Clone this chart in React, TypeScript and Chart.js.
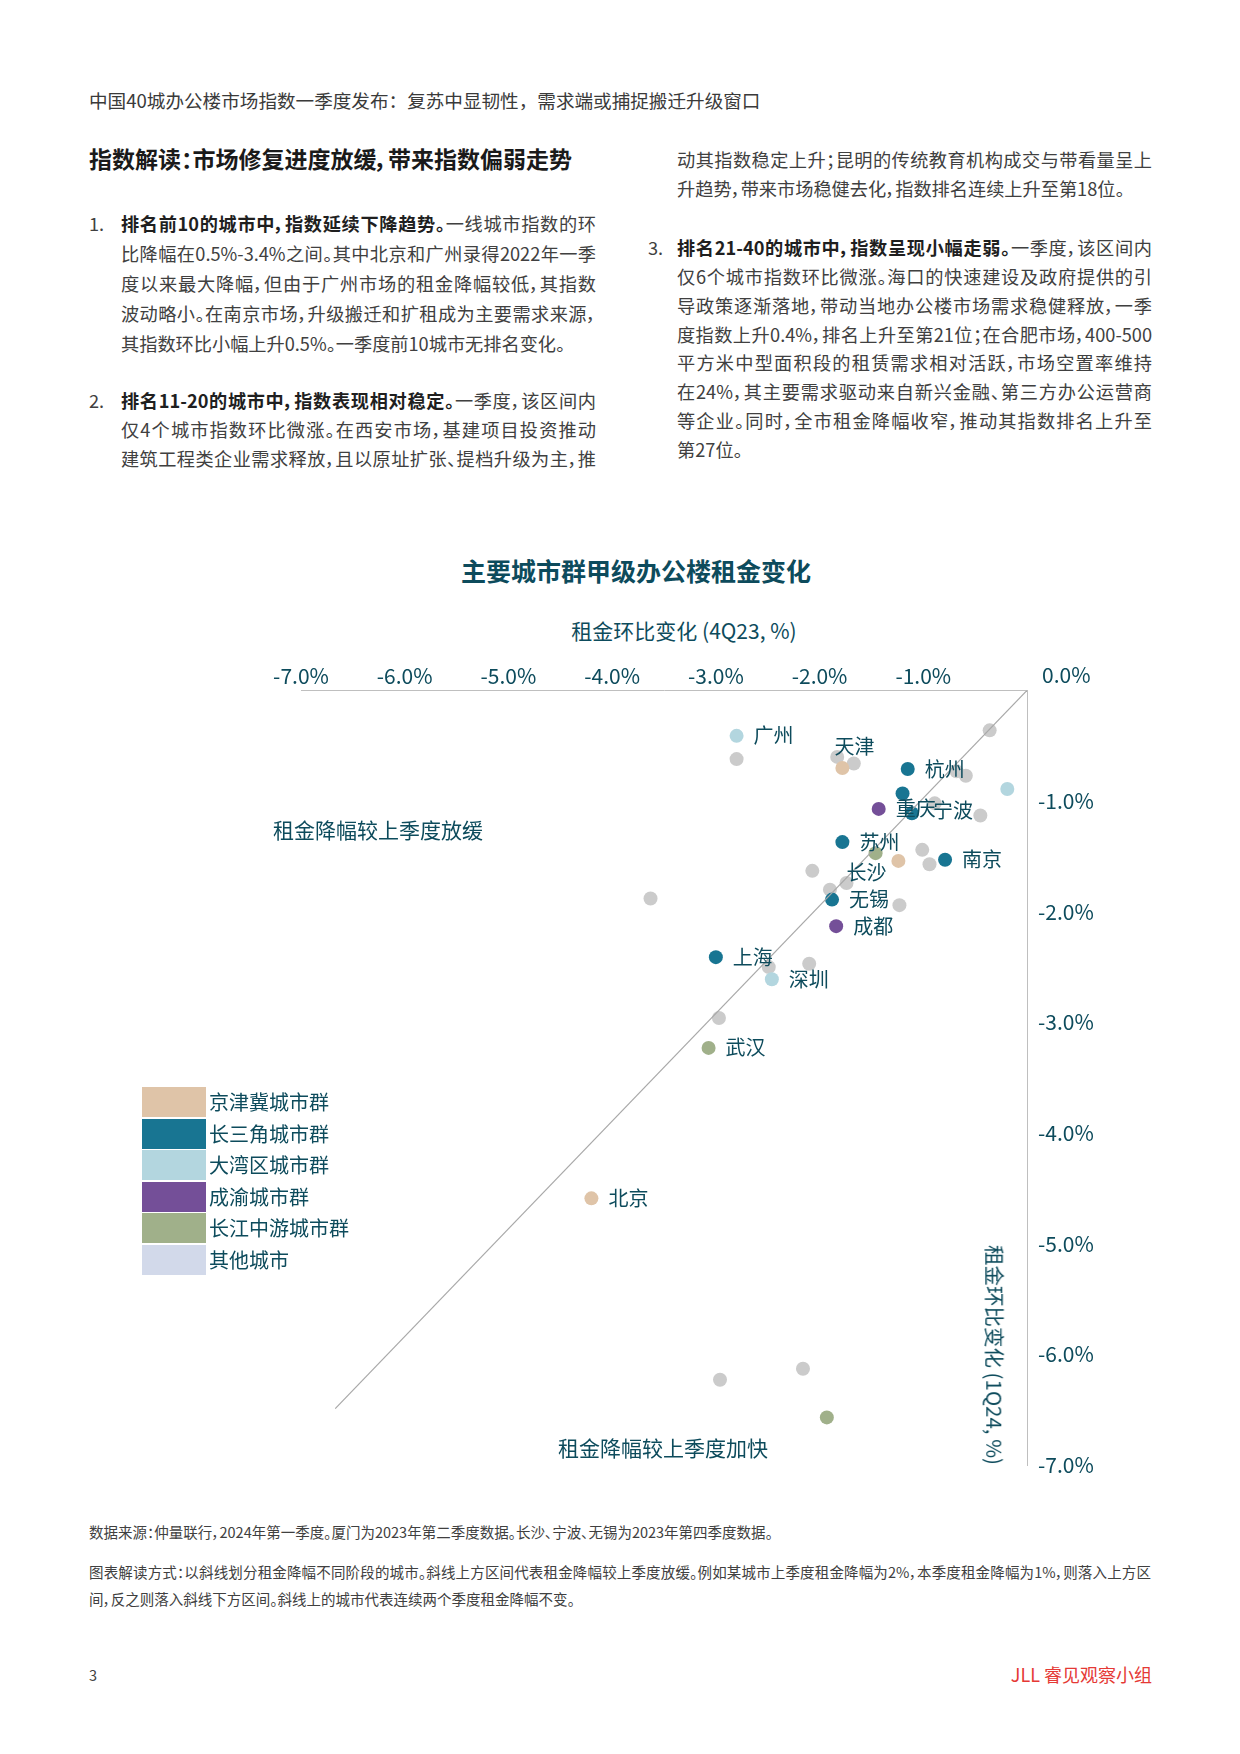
import React, { useEffect, useRef } from 'react';
import { Chart, registerables } from 'chart.js';

Chart.register(...registerables);

const FONT = "'Noto Sans CJK SC', 'Noto Sans', sans-serif";
const TEAL_TEXT = '#0d4b5c';
const BODY_TEXT = '#404040';

// ---- legend / groups ----
const groupNames = ['京津冀城市群', '长三角城市群', '大湾区城市群', '成渝城市群', '长江中游城市群', '其他城市'];
const groupColors = ['#dfc4a8', '#187592', '#b3d6df', '#744f98', '#a0b08a', '#d2d9ea'];
const otherDotColor = '#cbcbcb';

// ---- data: x = 租金环比变化 4Q23 (%), y = 租金环比变化 1Q24 (%) ----
const jjjCities = ['天津', '北京', ''];
const jjjRent4Q23 = [-1.78, -4.2, -1.24];
const jjjRent1Q24 = [-0.7, -4.59, -1.54];

const csjCities = ['杭州', '', '宁波', '苏州', '南京', '无锡', '上海'];
const csjRent4Q23 = [-1.15, -1.2, -1.11, -1.78, -0.79, -1.88, -3.0];
const csjRent1Q24 = [-0.71, -0.93, -1.11, -1.37, -1.53, -1.89, -2.41];

const gbaCities = ['广州', '深圳', ''];
const gbaRent4Q23 = [-2.8, -2.46, -0.19];
const gbaRent1Q24 = [-0.41, -2.61, -0.89];

const cyCities = ['重庆', '成都'];
const cyRent4Q23 = [-1.43, -1.84];
const cyRent1Q24 = [-1.07, -2.13];

const cjzyCities = ['长沙', '武汉', ''];
const cjzyRent4Q23 = [-1.46, -3.07, -1.93];
const cjzyRent1Q24 = [-1.47, -3.23, -6.57];

const otherRent4Q23 = [-2.8, -1.83, -1.67, -0.36, -0.68, -0.59, -0.89, -0.45, -1.01, -0.94, -2.07, -1.74, -1.9, -1.23, -3.63, -2.49, -2.1, -2.97, -2.96, -2.16];
const otherRent1Q24 = [-0.62, -0.6, -0.66, -0.36, -0.73, -0.77, -1.02, -1.13, -1.44, -1.57, -1.63, -1.74, -1.8, -1.94, -1.88, -2.5, -2.47, -2.96, -6.23, -6.13];

// reference (no change) line
const diagonal4Q23 = [0, -6.67];
const diagonal1Q24 = [0, -6.49];

const axisMin = -7;
const axisMax = 0;
const axisStep = 1;

// label placement (pixels) relative to the dot; default right of dot
const labelOffsets: Record<string, [number, number]> = {
  天津: [-8, -22],
  宁波: [21, -3],
  长沙: [-29, 19],
};

const toPoints = (xs: number[], ys: number[]) => xs.map((x, i) => ({ x, y: ys[i] }));

const pointLabelPlugin = {
  id: 'pointLabels',
  afterDatasetsDraw(chart: any) {
    const ctx = chart.ctx;
    ctx.save();
    ctx.font = `20px ${FONT}`;
    ctx.fillStyle = TEAL_TEXT;
    ctx.textBaseline = 'middle';
    ctx.textAlign = 'left';
    chart.data.datasets.forEach((ds: any, i: number) => {
      const names: string[] | undefined = ds.cityNames;
      if (!names) return;
      const meta = chart.getDatasetMeta(i);
      meta.data.forEach((el: any, j: number) => {
        const n = names[j];
        if (!n) return;
        const [dx, dy] = labelOffsets[n] || [17, 0];
        ctx.fillText(n, el.x + dx, el.y + dy);
      });
    });
    const area = chart.chartArea;
    ctx.font = `21px ${FONT}`;
    ctx.fillText('0.0%', area.right + 15, area.top - 15);
    ctx.restore();
  },
};

function ScatterChart() {
  const ref = useRef<HTMLCanvasElement | null>(null);
  useEffect(() => {
    if (!ref.current) return;
    const tickFont = { family: FONT, size: 21 };
    const fmt = (v: any) => (Number(v) === 0 ? '' : Number(v).toFixed(1) + '%');
    const mk = (names: string[] | null, xs: number[], ys: number[], color: string) => ({
      data: toPoints(xs, ys),
      cityNames: names,
      backgroundColor: color,
      borderWidth: 0,
      pointRadius: 7,
      pointHoverRadius: 7,
      pointBorderWidth: 0,
    });
    const chart = new Chart(ref.current, {
      type: 'scatter',
      data: {
        datasets: [
          {
            data: toPoints(diagonal4Q23, diagonal1Q24),
            showLine: true,
            borderColor: '#a8a8a8',
            borderWidth: 1.2,
            pointRadius: 0,
            pointHoverRadius: 0,
          } as any,
          mk(jjjCities, jjjRent4Q23, jjjRent1Q24, groupColors[0]),
          mk(csjCities, csjRent4Q23, csjRent1Q24, groupColors[1]),
          mk(gbaCities, gbaRent4Q23, gbaRent1Q24, groupColors[2]),
          mk(cyCities, cyRent4Q23, cyRent1Q24, groupColors[3]),
          mk(cjzyCities, cjzyRent4Q23, cjzyRent1Q24, groupColors[4]),
          mk(null, otherRent4Q23, otherRent1Q24, otherDotColor),
        ],
      },
      options: {
        responsive: false,
        animation: false,
        events: [],
        layout: { padding: { left: 301, top: 50.5, right: 113, bottom: 35 } },
        plugins: { legend: { display: false }, tooltip: { enabled: false } },
        scales: {
          x: {
            type: 'linear',
            position: 'top',
            min: axisMin,
            max: axisMax,
            ticks: { stepSize: axisStep, padding: 2, color: TEAL_TEXT, font: tickFont, callback: fmt, autoSkip: false, maxRotation: 0 },
            grid: { display: false, drawTicks: false },
            border: { display: true, color: '#bfbfbf', width: 1 },
            afterFit: (s: any) => {
              s.height = 40;
            },
          },
          y: {
            type: 'linear',
            position: 'right',
            min: axisMin,
            max: axisMax,
            ticks: { stepSize: axisStep, padding: 11, color: TEAL_TEXT, font: tickFont, callback: fmt, autoSkip: false },
            grid: { display: false, drawTicks: false },
            border: { display: true, color: '#bfbfbf', width: 1 },
            afterFit: (s: any) => {
              s.width = 100;
            },
          },
        },
      } as any,
      plugins: [pointLabelPlugin],
    });
    return () => chart.destroy();
  }, []);
  return (
    <canvas
      ref={ref}
      width={1240}
      height={900}
      style={{ position: 'absolute', left: 0, top: 600, width: 1240, height: 900 }}
    />
  );
}

type LineProps = { x: number; y: number; w: number; last?: boolean; size?: number; children: React.ReactNode; bold?: boolean; color?: string };
function Line({ x, y, w, last, size = 18.2, children, bold, color = BODY_TEXT }: LineProps) {
  return (
    <div
      style={{
        position: 'absolute',
        left: x,
        top: y - 15,
        width: w,
        height: 30,
        lineHeight: '30px',
        fontSize: size,
        fontFamily: FONT,
        fontWeight: bold ? 700 : 400,
        color,
        textAlign: 'justify',
        textAlignLast: last ? 'left' : 'justify',
        fontFeatureSettings: '"palt"',
        whiteSpace: 'normal',
      } as any}
    >
      {children}
    </div>
  );
}

function Txt({ x, y, size, children, color = TEAL_TEXT, bold, center, style }: any) {
  return (
    <div
      style={{
        position: 'absolute',
        left: x,
        top: y,
        transform: center ? 'translate(-50%, -50%)' : 'translate(0, -50%)',
        fontSize: size,
        fontFamily: FONT,
        fontWeight: bold ? 700 : 400,
        color,
        whiteSpace: 'nowrap',
        lineHeight: 1.2,
        ...style,
      }}
    >
      {children}
    </div>
  );
}

const B = ({ children }: any) => <b style={{ fontWeight: 700, color: '#1f1f1f' }}>{children}</b>;

export default function App() {
  const L = 121;
  const R = 677;
  const W = 475;
  return (
    <div style={{ position: 'absolute', left: 0, top: 0, width: 1240, height: 1754, background: '#fff', overflow: 'hidden' }}>
      <Txt x={89} y={100} size={18.6} color="#3a3a3a">
        中国40城办公楼市场指数一季度发布：复苏中显韧性，需求端或捕捉搬迁升级窗口
      </Txt>
      <Txt x={89} y={159} size={23} bold color="#1a1a1a" style={{ fontFeatureSettings: '"palt"' }}>
        指数解读：市场修复进度放缓，带来指数偏弱走势
      </Txt>

      {/* left column */}
      <Line x={89} y={223} w={30}>1.</Line>
      <Line x={L} y={223} w={W}><B>排名前10的城市中，指数延续下降趋势。</B>一线城市指数的环</Line>
      <Line x={L} y={253} w={W}>比降幅在0.5%-3.4%之间。其中北京和广州录得2022年一季</Line>
      <Line x={L} y={283} w={W}>度以来最大降幅，但由于广州市场的租金降幅较低，其指数</Line>
      <Line x={L} y={313} w={W}>波动略小。在南京市场，升级搬迁和扩租成为主要需求来源，</Line>
      <Line x={L} y={343} w={W} last>其指数环比小幅上升0.5%。一季度前10城市无排名变化。</Line>

      <Line x={89} y={400} w={30}>2.</Line>
      <Line x={L} y={400} w={W}><B>排名11-20的城市中，指数表现相对稳定。</B>一季度，该区间内</Line>
      <Line x={L} y={429} w={W}>仅4个城市指数环比微涨。在西安市场，基建项目投资推动</Line>
      <Line x={L} y={458} w={W}>建筑工程类企业需求释放，且以原址扩张、提档升级为主，推</Line>

      {/* right column */}
      <Line x={R} y={159} w={W}>动其指数稳定上升；昆明的传统教育机构成交与带看量呈上</Line>
      <Line x={R} y={188} w={W} last>升趋势，带来市场稳健去化，指数排名连续上升至第18位。</Line>

      <Line x={648} y={247} w={30}>3.</Line>
      <Line x={R} y={247} w={W}><B>排名21-40的城市中，指数呈现小幅走弱。</B>一季度，该区间内</Line>
      <Line x={R} y={276} w={W}>仅6个城市指数环比微涨。海口的快速建设及政府提供的引</Line>
      <Line x={R} y={304.5} w={W}>导政策逐渐落地，带动当地办公楼市场需求稳健释放，一季</Line>
      <Line x={R} y={333.5} w={W}>度指数上升0.4%，排名上升至第21位；在合肥市场，400-500</Line>
      <Line x={R} y={362} w={W}>平方米中型面积段的租赁需求相对活跃，市场空置率维持</Line>
      <Line x={R} y={391} w={W}>在24%，其主要需求驱动来自新兴金融、第三方办公运营商</Line>
      <Line x={R} y={420} w={W}>等企业。同时，全市租金降幅收窄，推动其指数排名上升至</Line>
      <Line x={R} y={448.5} w={W} last>第27位。</Line>

      {/* chart */}
      <Txt x={636} y={570} size={25} bold center>主要城市群甲级办公楼租金变化</Txt>
      <Txt x={684} y={631} size={21} center>租金环比变化 (4Q23, %)</Txt>
      <ScatterChart />
      <Txt x={378} y={830} size={21} center>租金降幅较上季度放缓</Txt>
      <Txt x={663} y={1448} size={21} center>租金降幅较上季度加快</Txt>
      <Txt x={995} y={1355} size={20.5} center style={{ transform: 'translate(-50%, -50%) rotate(90deg)' }}>
        租金环比变化 (1Q24, %)
      </Txt>

      {/* legend */}
      {groupNames.map((name, i) => (
        <React.Fragment key={name}>
          <div
            style={{
              position: 'absolute',
              left: 142,
              top: 1087 + i * 31.6,
              width: 64,
              height: 30,
              background: groupColors[i],
            }}
          />
          <Txt x={209} y={1102 + i * 31.6} size={20}>{name}</Txt>
        </React.Fragment>
      ))}

      {/* footnotes */}
      <Line x={89} y={1532} w={1100} size={14.5} last color="#404040">
        数据来源：仲量联行，2024年第一季度。厦门为2023年第二季度数据。长沙、宁波、无锡为2023年第四季度数据。
      </Line>
      <Line x={89} y={1572} w={1062} size={14.5} color="#404040">
        图表解读方式：以斜线划分租金降幅不同阶段的城市。斜线上方区间代表租金降幅较上季度放缓。例如某城市上季度租金降幅为2%，本季度租金降幅为1%，则落入上方区
      </Line>
      <Line x={89} y={1599} w={1062} size={14.5} last color="#404040">
        间，反之则落入斜线下方区间。斜线上的城市代表连续两个季度租金降幅不变。
      </Line>

      <Txt x={89} y={1675} size={14.5} color="#404040">3</Txt>
      <Txt x={1152} y={1675} size={18} color="#e53935" style={{ transform: 'translate(-100%, -50%)' }}>
        JLL 睿见观察小组
      </Txt>
    </div>
  );
}
